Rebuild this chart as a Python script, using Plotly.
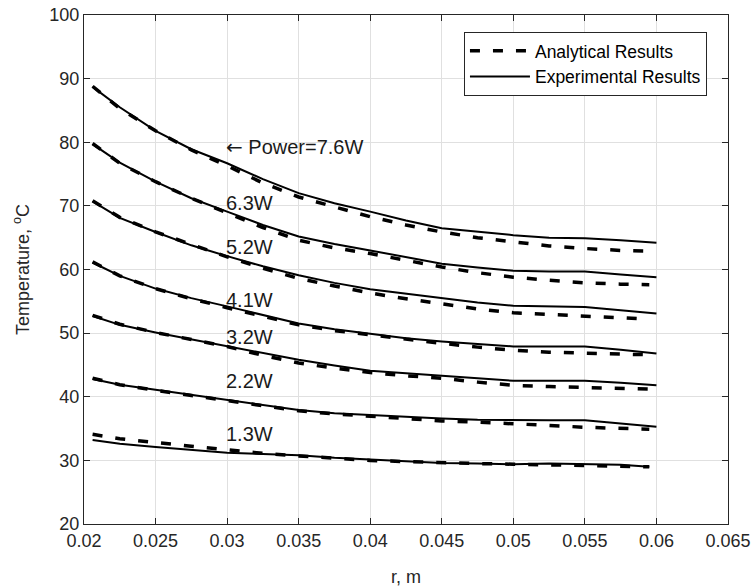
import plotly.graph_objects as go

# Radius positions (m)
r = [0.0206, 0.0225, 0.025, 0.0275, 0.03, 0.0325, 0.035, 0.0375, 0.04,
     0.0425, 0.045, 0.0475, 0.05, 0.0525, 0.055, 0.0575, 0.06]
r_an = r[:-1] + [0.0595]

powers = ["7.6W", "6.3W", "5.2W", "4.1W", "3.2W", "2.2W", "1.3W"]

exp_76 = [88.7, 85.5, 81.8, 78.9, 76.7, 74.2, 72.0, 70.4, 69.1, 67.7, 66.5, 65.9, 65.4, 65.0, 64.9, 64.6, 64.2]
exp_63 = [79.7, 76.8, 73.8, 71.2, 69.1, 67.0, 65.2, 64.0, 63.0, 61.9, 60.9, 60.3, 59.8, 59.7, 59.7, 59.2, 58.8]
exp_52 = [70.7, 68.1, 65.9, 63.8, 62.1, 60.5, 59.1, 57.9, 56.9, 56.2, 55.5, 54.8, 54.3, 54.2, 54.1, 53.6, 53.1]
exp_41 = [61.1, 59.0, 57.0, 55.5, 54.2, 52.8, 51.5, 50.6, 49.9, 49.2, 48.7, 48.3, 47.9, 47.9, 47.9, 47.4, 46.8]
exp_32 = [52.7, 51.3, 50.1, 49.0, 48.0, 46.8, 45.8, 44.9, 44.1, 43.7, 43.3, 42.9, 42.5, 42.5, 42.5, 42.2, 41.8]
exp_22 = [42.8, 41.9, 41.1, 40.3, 39.5, 38.6, 37.9, 37.4, 37.1, 36.8, 36.6, 36.4, 36.3, 36.3, 36.3, 35.8, 35.3]
exp_13 = [33.2, 32.6, 32.1, 31.6, 31.2, 31.0, 30.8, 30.4, 30.1, 29.8, 29.6, 29.5, 29.4, 29.5, 29.4, 29.3, 29.0]

an_76 = [88.8, 85.3, 81.8, 78.8, 76.3, 73.6, 71.4, 69.8, 68.3, 67.0, 65.9, 65.0, 64.3, 63.7, 63.3, 63.0, 62.9]
an_63 = [79.8, 76.7, 73.8, 71.2, 68.9, 66.6, 64.6, 63.4, 62.5, 61.4, 60.4, 59.5, 58.8, 58.3, 57.9, 57.7, 57.6]
an_52 = [70.8, 68.2, 65.9, 63.9, 62.0, 60.2, 58.6, 57.4, 56.3, 55.4, 54.6, 53.8, 53.2, 52.9, 52.6, 52.4, 52.2]
an_41 = [61.2, 59.0, 57.0, 55.4, 54.0, 52.6, 51.3, 50.4, 49.7, 49.0, 48.4, 47.8, 47.3, 47.0, 46.8, 46.7, 46.6]
an_32 = [52.8, 51.4, 50.1, 49.0, 47.9, 46.5, 45.3, 44.5, 43.8, 43.3, 42.9, 42.3, 41.8, 41.6, 41.5, 41.3, 41.2]
an_22 = [42.9, 41.9, 41.0, 40.2, 39.4, 38.6, 37.8, 37.3, 36.9, 36.5, 36.2, 36.0, 35.8, 35.5, 35.2, 35.0, 34.9]
an_13 = [34.1, 33.4, 32.8, 32.2, 31.6, 31.1, 30.7, 30.3, 30.0, 29.8, 29.6, 29.5, 29.4, 29.3, 29.2, 29.1, 29.0]

exp_all = [exp_76, exp_63, exp_52, exp_41, exp_32, exp_22, exp_13]
an_all = [an_76, an_63, an_52, an_41, an_32, an_22, an_13]

# Curve label positions (data units)
label_texts = ["<span style='font-family:DejaVu Sans'>\u2190</span> Power=7.6W",
               "6.3W", "5.2W", "4.1W", "3.2W", "2.2W", "1.3W"]
label_x = [0.03] * 7
label_y = [79.3, 70.4, 63.5, 55.2, 49.4, 42.5, 34.2]

x_ticks = [0.02, 0.025, 0.03, 0.035, 0.04, 0.045, 0.05, 0.055, 0.06, 0.065]
y_ticks = [20, 30, 40, 50, 60, 70, 80, 90, 100]

FONT = "Liberation Sans, Arial, Helvetica, sans-serif"
AXC = "#262626"

fig = go.Figure()
for i in range(len(powers)):
    x_exp = r if i < 6 else r[:-1] + [0.0595]
    fig.add_trace(go.Scatter(
        x=r_an, y=an_all[i], mode="lines", name="Analytical Results",
        legendgroup="an", showlegend=(i == 0),
        line=dict(color="black", width=3.5, dash="10px,13px")))
    fig.add_trace(go.Scatter(
        x=x_exp, y=exp_all[i], mode="lines", name="Experimental Results",
        legendgroup="exp", showlegend=(i == 0),
        line=dict(color="black", width=2)))

for t, xx, yy in zip(label_texts, label_x, label_y):
    fig.add_annotation(x=xx, y=yy, text=t, showarrow=False, xanchor="left",
                       yanchor="middle", xshift=-3,
                       font=dict(family=FONT, size=20, color="#1a1a1a"))

axis_common = dict(
    showline=True, linecolor=AXC, linewidth=1, mirror="ticks",
    ticks="inside", ticklen=6, tickcolor=AXC,
    showgrid=True, gridcolor="#e0e0e0", gridwidth=1,
    zeroline=False, automargin=False, ticklabeloverflow="allow",
    tickfont=dict(family=FONT, size=18, color=AXC),
)

fig.update_xaxes(range=[0.02, 0.065], tickvals=x_ticks,
                 ticktext=[f"{v:g}" for v in x_ticks],
                 title=dict(text="r, m", font=dict(family=FONT, size=18, color=AXC), standoff=20),
                 **axis_common)
fig.update_yaxes(range=[20, 100], tickvals=y_ticks,
                 title=dict(text="Temperature, <sup>o</sup>C", font=dict(family=FONT, size=18, color=AXC), standoff=15),
                 **axis_common)

fig.update_layout(
    width=753, height=588,
    margin=dict(l=84, r=25, t=15, b=64, autoexpand=False),
    paper_bgcolor="white", plot_bgcolor="white",
    font=dict(family=FONT, color=AXC),
    legend=dict(x=0.59, y=0.967, xanchor="left", yanchor="top",
                bgcolor="white", bordercolor=AXC, borderwidth=1,
                font=dict(family=FONT, size=17.5, color="black"),
                tracegroupgap=0, itemwidth=60),
)

fig.write_html("out.html",
               config={"displayModeBar": False},
               post_script="document.body.style.margin='0';"
                           "document.body.style.overflow='hidden';")
